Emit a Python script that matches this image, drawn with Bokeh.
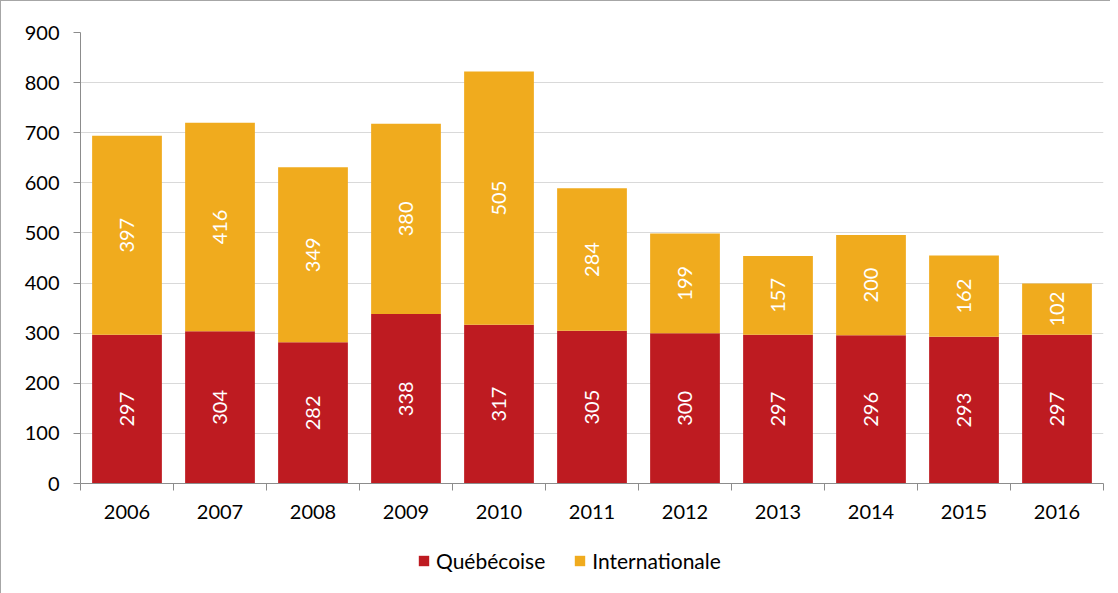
import math
from bokeh.plotting import figure
from bokeh.layouts import column
from bokeh.models import (ColumnDataSource, Range1d, FixedTicker, Legend, LegendItem)
from bokeh.core.properties import value
from bokeh.embed import file_html
from bokeh.resources import INLINE

years = ["2006", "2007", "2008", "2009", "2010", "2011", "2012", "2013", "2014", "2015", "2016"]
quebecoise = [297, 304, 282, 338, 317, 305, 300, 297, 296, 293, 297]
internationale = [397, 416, 349, 380, 505, 284, 199, 157, 200, 162, 102]
y_ticks = [0, 100, 200, 300, 400, 500, 600, 700, 800, 900]
series_names = ["Québécoise", "Internationale"]

RED = "#BE1B21"
ORANGE = "#F0AB1E"
FONT = "Lato"
FS = "20px"
BORDER = "1px solid #a6a6a6"

n = len(years)
xc = [i + 0.5 for i in range(n)]
src = ColumnDataSource(dict(
    x=xc, q=quebecoise, i=internationale,
    q_lab=[str(v) for v in quebecoise], i_lab=[str(v) for v in internationale],
    q_mid=[v / 2 for v in quebecoise],
    i_mid=[a + b / 2 for a, b in zip(quebecoise, internationale)],
))

p = figure(width=1110, height=530, output_backend="svg", toolbar_location=None,
           x_range=Range1d(0, n), y_range=Range1d(0, 900),
           min_border_left=79, min_border_right=8, min_border_top=31, min_border_bottom=48)
p.outline_line_color = None
p.background_fill_color = "white"
p.border_fill_color = "white"
p.styles = {"border-left": BORDER, "border-top": BORDER}

renderers = p.vbar_stack(["q", "i"], x="x", width=0.75, source=src,
                         color=[RED, ORANGE], line_color=None)

p.text(x="x", y="q_mid", text="q_lab", source=src, angle=math.pi / 2,
       text_align="center", text_baseline="middle", text_color="white",
       text_font=value(FONT), text_font_size=FS)
p.text(x="x", y="i_mid", text="i_lab", source=src, angle=math.pi / 2,
       text_align="center", text_baseline="middle", text_color="white",
       text_font=value(FONT), text_font_size=FS)

# grid
p.xgrid.grid_line_color = None
p.ygrid.grid_line_color = "#D9D9D9"
p.ygrid.grid_line_width = 1

# y axis
p.yaxis.ticker = FixedTicker(ticks=y_ticks)
p.yaxis.axis_line_color = "#8C8C8C"
p.yaxis.major_tick_line_color = "#8C8C8C"
p.yaxis.major_tick_out = 7
p.yaxis.major_tick_in = 0
p.yaxis.minor_tick_line_color = None
p.yaxis.major_label_text_font = FONT
p.yaxis.major_label_text_font_size = FS
p.yaxis.major_label_text_color = "#000000"
p.yaxis.major_label_standoff = 14

# x axis
p.xaxis.ticker = FixedTicker(ticks=xc, minor_ticks=list(range(n + 1)))
p.xaxis.major_label_overrides = {x: y for x, y in zip(xc, years)}
p.xaxis.axis_line_color = "#8C8C8C"
p.xaxis.major_tick_line_color = None
p.xaxis.major_tick_out = 0
p.xaxis.major_tick_in = 0
p.xaxis.minor_tick_line_color = "#8C8C8C"
p.xaxis.minor_tick_out = 7
p.xaxis.minor_tick_in = 0
p.xaxis.major_label_text_font = FONT
p.xaxis.major_label_text_font_size = FS
p.xaxis.major_label_text_color = "#000000"
p.xaxis.major_label_standoff = 14

# legend strip (bars are the same series styles, kept outside the visible range)
p2 = figure(width=1110, height=63, output_backend="svg", toolbar_location=None,
            x_axis_type=None, y_axis_type=None, x_range=Range1d(0, 1), y_range=Range1d(0, 1),
            min_border_left=0, min_border_right=0, min_border_top=0, min_border_bottom=0)
p2.outline_line_color = None
p2.xgrid.grid_line_color = None
p2.ygrid.grid_line_color = None
p2.styles = {"border-left": BORDER}
lr_q = p2.vbar(x=[-5], top=[0], width=0.1, color=RED, line_color=None)
lr_i = p2.vbar(x=[-5], top=[0], width=0.1, color=ORANGE, line_color=None)

legend = Legend(items=[LegendItem(label=series_names[0], renderers=[lr_q]),
                       LegendItem(label=series_names[1], renderers=[lr_i])],
                orientation="horizontal", location=(337, 20),
                glyph_width=13, glyph_height=13, label_text_font=FONT,
                label_text_font_size="21px", label_text_color="#000000",
                label_standoff=6, spacing=28,
                padding=0, margin=0, border_line_color=None,
                background_fill_alpha=0)
p2.add_layout(legend, "center")

layout = column(p, p2, spacing=0)
open("out.html", "w").write(file_html(layout, INLINE))
